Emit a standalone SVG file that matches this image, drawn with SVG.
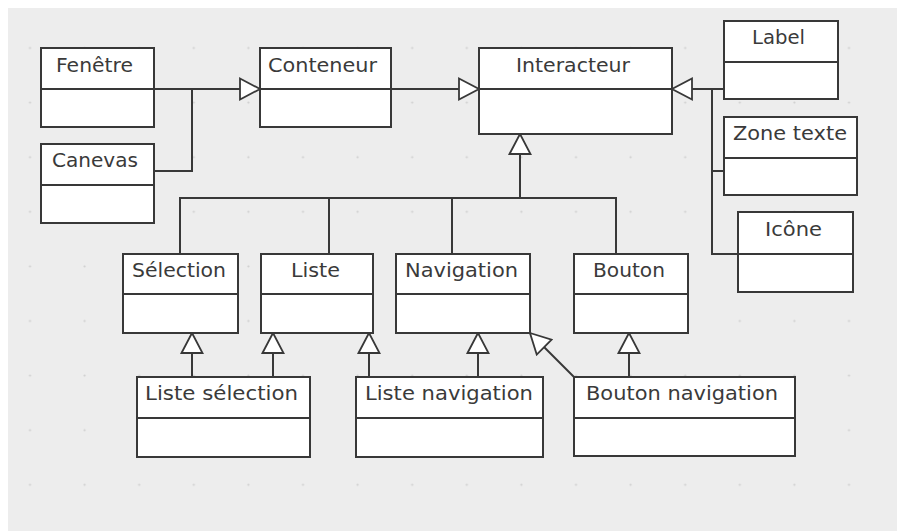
<svg xmlns="http://www.w3.org/2000/svg" width="897" height="531" viewBox="0 0 897 531">
<defs>
<style>
.box{fill:#fff;stroke:#383838;stroke-width:2}
.div{stroke:#383838;stroke-width:2}
.lbl{font-family:"DejaVu Sans","Liberation Sans",sans-serif;font-size:19px;fill:#3a3a3a}
.con{fill:none;stroke:#383838;stroke-width:2}
.gen{marker-end:url(#tri)}
</style>
<pattern id="grid" patternUnits="userSpaceOnUse" x="2.7" y="20.7" width="54.6" height="54.6">
<circle cx="27.3" cy="27.3" r="1.1" fill="#cfcfcf"/>
</pattern>
<marker id="tri" markerUnits="userSpaceOnUse" viewBox="0 0 24 24" refX="22" refY="12" markerWidth="24" markerHeight="24" orient="auto">
<path d="M2,1.5 L22,12 L2,22.5 Z" fill="#fff" stroke="#383838" stroke-width="1.8" stroke-linejoin="miter"/>
</marker>
</defs>
<rect x="0" y="0" width="897" height="531" fill="#fff"/>
<rect x="8" y="8" width="889" height="523" fill="#ededed"/>
<rect x="8" y="8" width="889" height="523" fill="url(#grid)"/>

<g id="connectors">
<path class="con gen" d="M154,89 H260"/>
<path class="con" d="M154,171 H192 V89"/>
<path class="con gen" d="M391,89 H479"/>
<path class="con gen" d="M724,89 H672"/>
<path class="con" d="M724,171 H712 V89"/>
<path class="con" d="M738,254 H712 V171"/>
<path class="con gen" d="M520,198 V134"/>
<path class="con" d="M180,254 V198 H616 V254"/>
<path class="con" d="M329,198 V254"/>
<path class="con" d="M452,198 V254"/>
<path class="con gen" d="M192,377 V333"/>
<path class="con gen" d="M273,377 V333"/>
<path class="con gen" d="M369,377 V333"/>
<path class="con gen" d="M478,377 V333"/>
<path class="con gen" d="M629,377 V333"/>
<path class="con gen" d="M574,377 L530,333"/>
</g>

<g id="fenetre"><rect class="box" x="41" y="48" width="113" height="79"/><line class="div" x1="41" y1="89" x2="154" y2="89"/><text class="lbl" x="56" y="72" textLength="77" lengthAdjust="spacingAndGlyphs">Fenêtre</text></g>
<g id="canevas"><rect class="box" x="41" y="144" width="113" height="79"/><line class="div" x1="41" y1="185" x2="154" y2="185"/><text class="lbl" x="52" y="167" textLength="86" lengthAdjust="spacingAndGlyphs">Canevas</text></g>
<g id="conteneur"><rect class="box" x="260" y="48" width="131" height="79"/><line class="div" x1="260" y1="89" x2="391" y2="89"/><text class="lbl" x="268" y="72" textLength="109" lengthAdjust="spacingAndGlyphs">Conteneur</text></g>
<g id="interacteur"><rect class="box" x="479" y="48" width="193" height="86"/><line class="div" x1="479" y1="89" x2="672" y2="89"/><text class="lbl" x="516" y="72" textLength="114" lengthAdjust="spacingAndGlyphs">Interacteur</text></g>
<g id="label"><rect class="box" x="724" y="21" width="114" height="78"/><line class="div" x1="724" y1="62" x2="838" y2="62"/><text class="lbl" x="752" y="44" textLength="53" lengthAdjust="spacingAndGlyphs">Label</text></g>
<g id="zonetexte"><rect class="box" x="724" y="117" width="133" height="78"/><line class="div" x1="724" y1="158" x2="857" y2="158"/><text class="lbl" x="733" y="140" textLength="114" lengthAdjust="spacingAndGlyphs">Zone texte</text></g>
<g id="icone"><rect class="box" x="738" y="212" width="115" height="80"/><line class="div" x1="738" y1="254" x2="853" y2="254"/><text class="lbl" x="765" y="236" textLength="57" lengthAdjust="spacingAndGlyphs">Icône</text></g>
<g id="selection"><rect class="box" x="123" y="254" width="115" height="79"/><line class="div" x1="123" y1="294" x2="238" y2="294"/><text class="lbl" x="132" y="277" textLength="94" lengthAdjust="spacingAndGlyphs">Sélection</text></g>
<g id="liste"><rect class="box" x="261" y="254" width="112" height="79"/><line class="div" x1="261" y1="294" x2="373" y2="294"/><text class="lbl" x="291" y="277" textLength="49" lengthAdjust="spacingAndGlyphs">Liste</text></g>
<g id="navigation"><rect class="box" x="396" y="254" width="134" height="79"/><line class="div" x1="396" y1="294" x2="530" y2="294"/><text class="lbl" x="405" y="277" textLength="113" lengthAdjust="spacingAndGlyphs">Navigation</text></g>
<g id="bouton"><rect class="box" x="574" y="254" width="114" height="79"/><line class="div" x1="574" y1="294" x2="688" y2="294"/><text class="lbl" x="593" y="277" textLength="72" lengthAdjust="spacingAndGlyphs">Bouton</text></g>
<g id="listeselection"><rect class="box" x="137" y="377" width="173" height="80"/><line class="div" x1="137" y1="418" x2="310" y2="418"/><text class="lbl" x="145" y="400" textLength="153" lengthAdjust="spacingAndGlyphs">Liste sélection</text></g>
<g id="listenavigation"><rect class="box" x="356" y="377" width="187" height="80"/><line class="div" x1="356" y1="418" x2="543" y2="418"/><text class="lbl" x="365" y="400" textLength="168" lengthAdjust="spacingAndGlyphs">Liste navigation</text></g>
<g id="boutonnavigation"><rect class="box" x="574" y="377" width="221" height="79"/><line class="div" x1="574" y1="418" x2="795" y2="418"/><text class="lbl" x="586" y="400" textLength="192" lengthAdjust="spacingAndGlyphs">Bouton navigation</text></g>
</svg>
